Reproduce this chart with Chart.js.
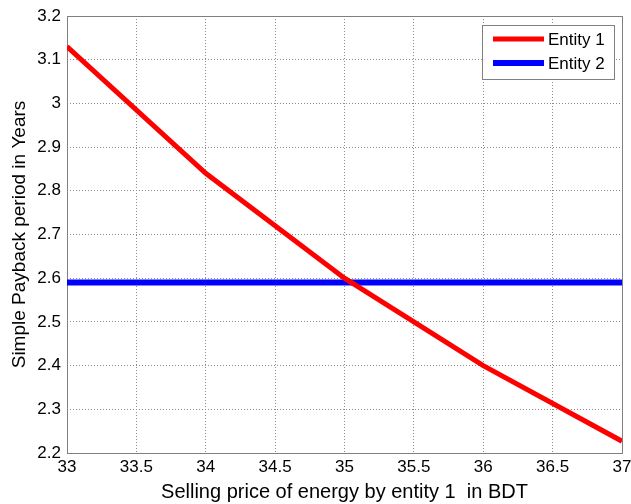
<!DOCTYPE html>
<html>
<head>
<meta charset="utf-8">
<title>Simple Payback period</title>
<script src="https://cdn.jsdelivr.net/npm/chart.js@4/dist/chart.umd.min.js"></script>
<style>
  html, body { margin: 0; padding: 0; background: #ffffff; }
  #wrap { width: 631px; height: 504px; position: relative; }
</style>
</head>
<body>
<div id="wrap"><canvas id="c" width="631" height="504"></canvas></div>
<script>
// Selling price of energy by entity 1 (BDT)
const sellingPrice = [33, 34, 35, 36, 37];
// Simple payback period (years)
const entity1Payback = [3.13, 2.84, 2.6, 2.4, 2.227];
const entity2Payback = [2.59, 2.59, 2.59, 2.59, 2.59];
const seriesNames = ['Entity 1', 'Entity 2'];

// Axis tick values
const xTickValues = [33, 33.5, 34, 34.5, 35, 35.5, 36, 36.5, 37];
const yTickValues = [2.2, 2.3, 2.4, 2.5, 2.6, 2.7, 2.8, 2.9, 3, 3.1, 3.2];

const FONT = '"Liberation Sans", Arial, Helvetica, sans-serif';

const toPoints = (xs, ys) => xs.map((x, i) => ({ x: x, y: ys[i] }));

// Box around the plotting area plus a bordered legend in the upper right
const frameAndLegend = {
  id: 'frameAndLegend',
  beforeDatasetsDraw(chart) {
    const { ctx, chartArea: a } = chart;
    ctx.save();
    ctx.strokeStyle = '#808080';
    ctx.lineWidth = 1;
    ctx.strokeRect(Math.round(a.left) + 0.5, Math.round(a.top) + 0.5,
                   Math.round(a.right - a.left), Math.round(a.bottom - a.top));
    ctx.restore();
  },
  afterDatasetsDraw(chart) {
    const { ctx, chartArea: a } = chart;
    const w = 132, h = 54;
    const x0 = Math.round(a.right - 8 - w), y0 = Math.round(a.top + 9);
    ctx.save();
    ctx.fillStyle = '#ffffff';
    ctx.fillRect(x0, y0, w, h);
    ctx.strokeStyle = '#808080';
    ctx.lineWidth = 1;
    ctx.strokeRect(x0 + 0.5, y0 + 0.5, w, h);
    ctx.font = '17px ' + FONT;
    ctx.textBaseline = 'middle';
    ctx.textAlign = 'left';
    chart.data.datasets.forEach((ds, i) => {
      const yy = y0 + 14 + i * 24;
      ctx.strokeStyle = ds.borderColor;
      ctx.lineWidth = ds.borderWidth;
      ctx.beginPath();
      ctx.moveTo(x0 + 11, yy);
      ctx.lineTo(x0 + 62, yy);
      ctx.stroke();
      ctx.fillStyle = '#000000';
      ctx.fillText(ds.label, x0 + 66, yy + 1);
    });
    ctx.restore();
  }
};

new Chart(document.getElementById('c'), {
  type: 'line',
  data: {
    datasets: [
      {
        label: seriesNames[0],
        data: toPoints(sellingPrice, entity1Payback),
        borderColor: '#ff0000',
        borderWidth: 5,
        pointRadius: 0,
        tension: 0,
        fill: false
      },
      {
        label: seriesNames[1],
        data: toPoints(sellingPrice, entity2Payback),
        borderColor: '#0000ff',
        borderWidth: 6,
        pointRadius: 0,
        tension: 0,
        fill: false
      }
    ]
  },
  options: {
    responsive: false,
    animation: false,
    events: [],
    layout: { padding: { top: 16, right: 9, left: 0, bottom: 0 } },
    plugins: {
      legend: { display: false },
      tooltip: { enabled: false }
    },
    scales: {
      x: {
        type: 'linear',
        min: 33,
        max: 37,
        afterBuildTicks: s => { s.ticks = xTickValues.map(v => ({ value: v })); },
        afterFit: s => { s.height = 51; s.paddingLeft = 0; s.paddingRight = 0; },
        border: { display: false, dash: [1, 2] },
        grid: { color: '#8c8c8c', lineWidth: 1, drawTicks: false },
        ticks: {
          color: '#000000',
          font: { family: FONT, size: 17 },
          padding: 4,
          maxRotation: 0,
          autoSkip: false,
          callback: v => String(v)
        },
        title: {
          display: true,
          text: 'Selling price of energy by entity 1  in BDT',
          color: '#000000',
          font: { family: FONT, size: 20 },
          padding: { top: 0, bottom: 0 }
        }
      },
      y: {
        type: 'linear',
        min: 2.2,
        max: 3.2,
        afterBuildTicks: s => { s.ticks = yTickValues.map(v => ({ value: v })); },
        afterFit: s => { s.width = 67; s.paddingTop = 0; s.paddingBottom = 0; },
        border: { display: false, dash: [1, 2] },
        grid: { color: '#8c8c8c', lineWidth: 1, drawTicks: false },
        ticks: {
          color: '#000000',
          font: { family: FONT, size: 17 },
          padding: 6,
          autoSkip: false,
          callback: v => String(+v.toFixed(1))
        },
        title: {
          display: true,
          text: 'Simple Payback period in Years',
          color: '#000000',
          font: { family: FONT, size: 19 },
          padding: { top: 8, bottom: 0 }
        }
      }
    }
  },
  plugins: [frameAndLegend]
});
</script>
</body>
</html>
